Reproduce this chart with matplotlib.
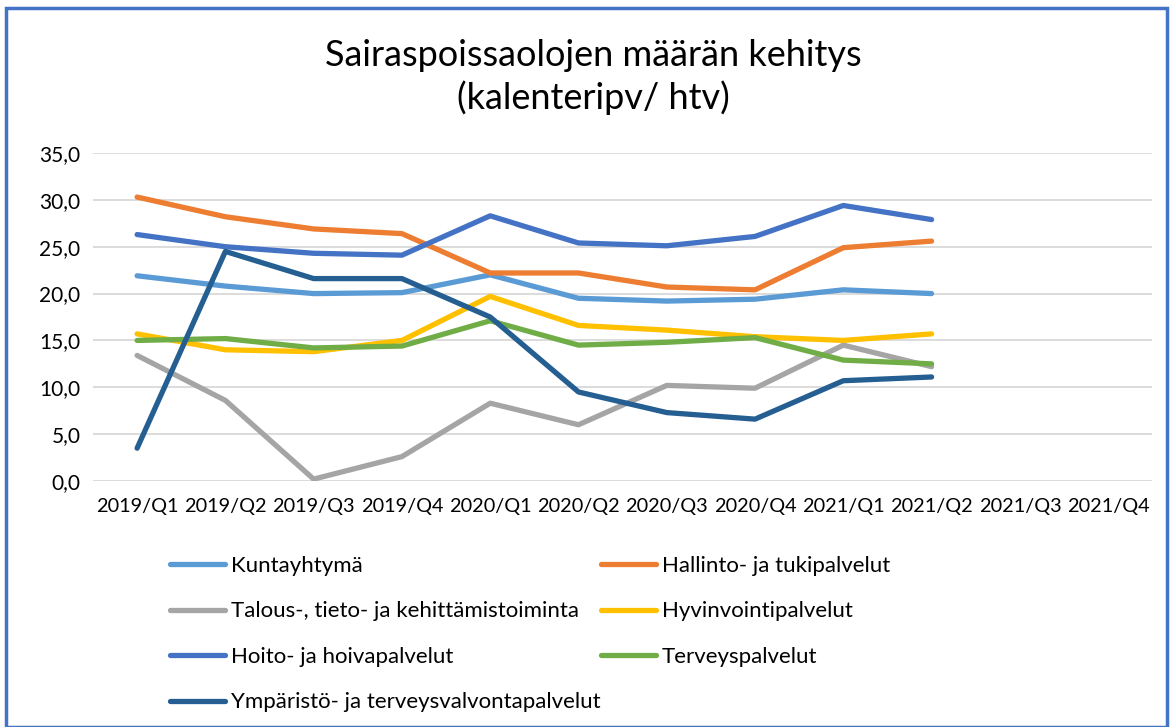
import matplotlib.pyplot as plt
import numpy as np
from matplotlib.patches import Rectangle

quarters = ['2019/Q1', '2019/Q2', '2019/Q3', '2019/Q4', '2020/Q1', '2020/Q2',
            '2020/Q3', '2020/Q4', '2021/Q1', '2021/Q2', '2021/Q3', '2021/Q4']

kuntayhtyma = [21.9, 20.8, 20.0, 20.1, 22.0, 19.5, 19.2, 19.4, 20.4, 20.0]
hallinto = [30.3, 28.2, 26.9, 26.4, 22.2, 22.2, 20.7, 20.4, 24.9, 25.6]
talous = [13.4, 8.6, 0.2, 2.6, 8.3, 6.0, 10.2, 9.9, 14.5, 12.2]
hyvinvointi = [15.7, 14.0, 13.8, 15.0, 19.7, 16.6, 16.1, 15.4, 15.0, 15.7]
hoito = [26.3, 25.0, 24.3, 24.1, 28.3, 25.4, 25.1, 26.1, 29.4, 27.9]
terveys = [15.0, 15.2, 14.2, 14.4, 17.1, 14.5, 14.8, 15.3, 12.9, 12.5]
ymparisto = [3.5, 24.5, 21.6, 21.6, 17.5, 9.5, 7.3, 6.6, 10.7, 11.1]

series = [
    ('Kuntayhtymä', kuntayhtyma, '#5B9BD5'),
    ('Hallinto- ja tukipalvelut', hallinto, '#ED7D31'),
    ('Talous-, tieto- ja kehittämistoiminta', talous, '#A5A5A5'),
    ('Hyvinvointipalvelut', hyvinvointi, '#FFC000'),
    ('Hoito- ja hoivapalvelut', hoito, '#4472C4'),
    ('Terveyspalvelut', terveys, '#70AD47'),
    ('Ympäristö- ja terveysvalvontapalvelut', ymparisto, '#255E91'),
]

plt.rcParams['font.family'] = ['Lato', 'DejaVu Sans']

fig = plt.figure(figsize=(11.71, 7.27), dpi=100)
ax = fig.add_axes([0.0794, 0.3384, 0.9046, 0.4511])

x = np.arange(len(quarters))
handles = {}
for name, vals, col in series:
    h, = ax.plot(x[:len(vals)], vals, color=col, lw=3.8, label=name,
                 solid_capstyle='round', solid_joinstyle='round', zorder=3)
    handles[name] = h

ax.set_xlim(-0.5, len(quarters) - 0.5)
ax.set_ylim(0, 35)
ax.set_yticks(np.arange(0, 36, 5))
ax.set_yticklabels([f'{v:.1f}'.replace('.', ',') for v in np.arange(0, 36, 5)])
ax.set_xticks(x)
ax.set_xticklabels(quarters)
ax.tick_params(axis='both', length=0, labelsize=15, colors='#000000')
ax.tick_params(axis='x', labelsize=14.3, pad=12)
ax.tick_params(axis='y', pad=9)
ax.yaxis.grid(True, color='#d9d9d9', lw=1.3)
ax.set_axisbelow(True)
for s in ax.spines.values():
    s.set_visible(False)

fig.text(0.5065, 0.894, 'Sairaspoissaolojen määrän kehitys\n(kalenteripv/ htv)',
         ha='center', va='center', fontsize=26, linespacing=1.3)

order = ['Kuntayhtymä', 'Talous-, tieto- ja kehittämistoiminta',
         'Hoito- ja hoivapalvelut', 'Ympäristö- ja terveysvalvontapalvelut',
         'Hallinto- ja tukipalvelut', 'Hyvinvointipalvelut', 'Terveyspalvelut']
fig.legend([handles[n] for n in order], order, ncol=2, loc='upper left',
           bbox_to_anchor=(0.128, 0.263), frameon=False, fontsize=16,
           handlelength=2.5, handletextpad=0.25, columnspacing=0.0,
           labelspacing=1.15)

fig.patches.append(Rectangle((0.005, 0.0), 0.992, 0.989, transform=fig.transFigure,
                             fill=False, edgecolor='#4472C4', lw=2.5))

fig.savefig('out.png', dpi=100)
